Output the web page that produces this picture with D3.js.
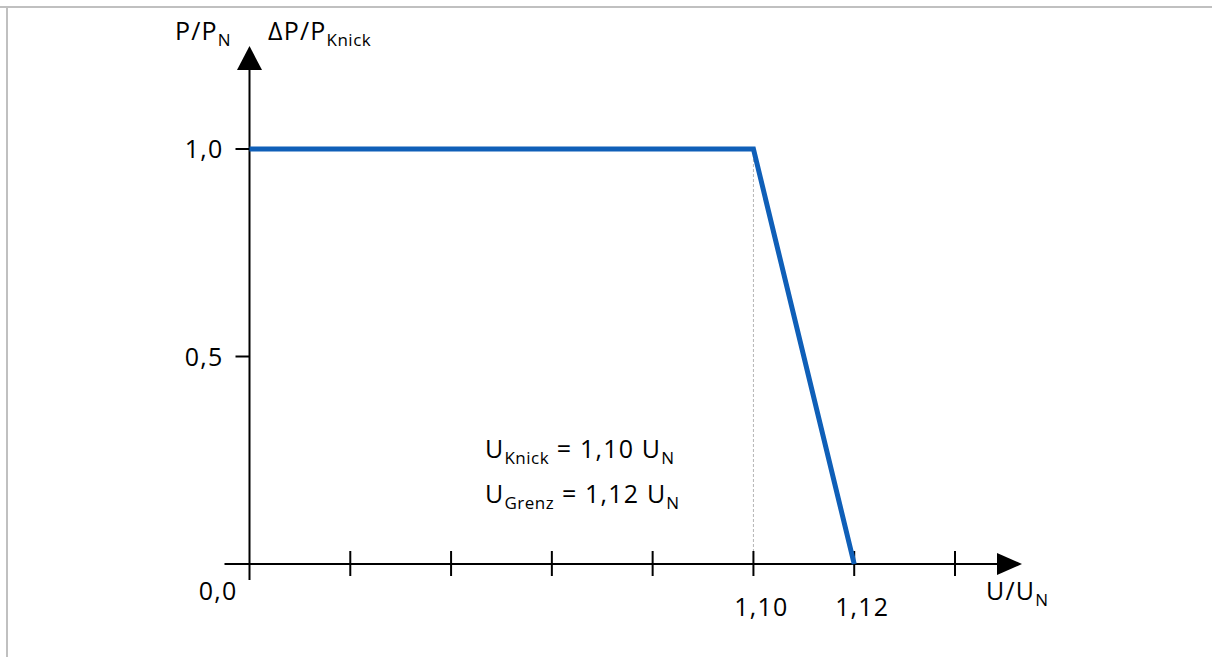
<!DOCTYPE html>
<html>
<head>
<meta charset="utf-8">
<script src="https://cdn.jsdelivr.net/npm/d3@7"></script>
<style>
  body { margin: 0; background: #fff; }
  svg { display: block; font-family: "Open Sans", sans-serif; }
</style>
</head>
<body>
<svg id="plot" width="1212" height="657"></svg>
<script>
// curve data (U/UN -> P/PN)
var uValues = [1.00, 1.10, 1.12];
var pValues = [1.0, 1.0, 0.0];

// tick values and labels
var xTicks = [1.02, 1.04, 1.06, 1.08, 1.10, 1.12, 1.14];
var xTickLabels = ["", "", "", "", "1,10", "1,12", ""];
var yTicks = [1.0, 0.5];
var yTickLabels = ["1,0", "0,5"];
var uKnick = 1.10;

var svg = d3.select("#plot");
var black = "#000";
var blue = "#0f5fb8";
var fontSize = 25;
var spacing = 1.2;

// scales
var x = d3.scaleLinear().domain([1.00, 1.14]).range([249.5, 955]);
var y = d3.scaleLinear().domain([0, 1]).range([564, 149]);

// frame lines top/left
svg.append("line").attr("x1", 0).attr("x2", 1212).attr("y1", 7).attr("y2", 7)
   .attr("stroke", "#c0c0c0").attr("stroke-width", 2);
svg.append("line").attr("x1", 7).attr("x2", 7).attr("y1", 6).attr("y2", 657)
   .attr("stroke", "#c0c0c0").attr("stroke-width", 2);

var x0 = x(1.00), y0 = y(0);

// dotted guide at U_Knick
svg.append("line")
   .attr("x1", x(uKnick)).attr("x2", x(uKnick))
   .attr("y1", y(1.0)).attr("y2", y0)
   .attr("stroke", "#b5b5b5").attr("stroke-width", 1)
   .attr("stroke-dasharray", "3,2");

// x axis line + arrow
svg.append("line")
   .attr("x1", x0 - 25).attr("x2", 1000)
   .attr("y1", y0).attr("y2", y0)
   .attr("stroke", black).attr("stroke-width", 2);
svg.append("path")
   .attr("d", "M997," + (y0 - 11) + "L1022," + y0 + "L997," + (y0 + 11) + "Z")
   .attr("fill", black);

// y axis line + arrow
svg.append("line")
   .attr("x1", x0).attr("x2", x0)
   .attr("y1", y0 + 16).attr("y2", 66)
   .attr("stroke", black).attr("stroke-width", 2);
svg.append("path")
   .attr("d", "M" + (x0 - 12.5) + ",70L" + x0 + ",46L" + (x0 + 12.5) + ",70Z")
   .attr("fill", black);

// x ticks (cross the axis)
svg.selectAll(".xtick")
   .data(xTicks)
   .enter()
   .append("line")
   .attr("class", "xtick")
   .attr("x1", function(d){ return x(d); })
   .attr("x2", function(d){ return x(d); })
   .attr("y1", y0 - 13).attr("y2", y0 + 12)
   .attr("stroke", black).attr("stroke-width", 2);

svg.selectAll(".xlabel")
   .data(xTicks)
   .enter()
   .append("text")
   .attr("class", "xlabel")
   .attr("x", function(d){ return x(d) + 8; })
   .attr("y", 616)
   .attr("text-anchor", "middle")
   .attr("font-size", fontSize)
   .attr("letter-spacing", spacing)
   .attr("fill", black)
   .text(function(d, i){ return xTickLabels[i]; });

// y ticks
svg.selectAll(".ytick")
   .data(yTicks)
   .enter()
   .append("line")
   .attr("class", "ytick")
   .attr("x1", x0 - 14).attr("x2", x0)
   .attr("y1", function(d){ return y(d); })
   .attr("y2", function(d){ return y(d); })
   .attr("stroke", black).attr("stroke-width", 2);

svg.selectAll(".ylabel")
   .data(yTicks)
   .enter()
   .append("text")
   .attr("class", "ylabel")
   .attr("x", x0 - 26)
   .attr("y", function(d){ return y(d) + 9; })
   .attr("text-anchor", "end")
   .attr("font-size", fontSize)
   .attr("letter-spacing", spacing)
   .attr("fill", black)
   .text(function(d, i){ return yTickLabels[i]; });

// origin label
svg.append("text")
   .attr("x", x0 - 12).attr("y", y0 + 36)
   .attr("text-anchor", "end")
   .attr("font-size", fontSize)
   .attr("letter-spacing", spacing)
   .text("0,0");

// curve
var line = d3.line()
             .x(function(d){ return x(d[0]); })
             .y(function(d){ return y(d[1]); });
svg.append("path")
   .datum(d3.zip(uValues, pValues))
   .attr("d", line)
   .attr("fill", "none")
   .attr("stroke", blue)
   .attr("stroke-width", 5)
   .attr("stroke-linejoin", "miter");

// text with subscript
function subText(xPos, yPos, parts){
  var t = svg.append("text")
             .attr("x", xPos).attr("y", yPos)
             .attr("font-size", fontSize)
             .attr("letter-spacing", spacing)
             .attr("fill", black);
  parts.forEach(function(p){
    if (p.sub) {
      t.append("tspan").attr("font-size", 17).attr("letter-spacing", 0.5)
       .attr("dy", 6).text(p.t);
    } else {
      t.append("tspan").attr("dy", p.up ? -6 : 0).text(p.t);
    }
  });
  return t;
}

subText(175, 40, [{t: "P/P"}, {t: "N", sub: true}]);
subText(268, 40, [{t: "\u0394P/P"}, {t: "Knick", sub: true}]);
subText(986, 600, [{t: "U/U"}, {t: "N", sub: true}]);
subText(485, 458, [{t: "U"}, {t: "Knick", sub: true}, {t: " = 1,10 U", up: true}, {t: "N", sub: true}]);
subText(485, 503, [{t: "U"}, {t: "Grenz", sub: true}, {t: " = 1,12 U", up: true}, {t: "N", sub: true}]);
</script>
</body>
</html>
